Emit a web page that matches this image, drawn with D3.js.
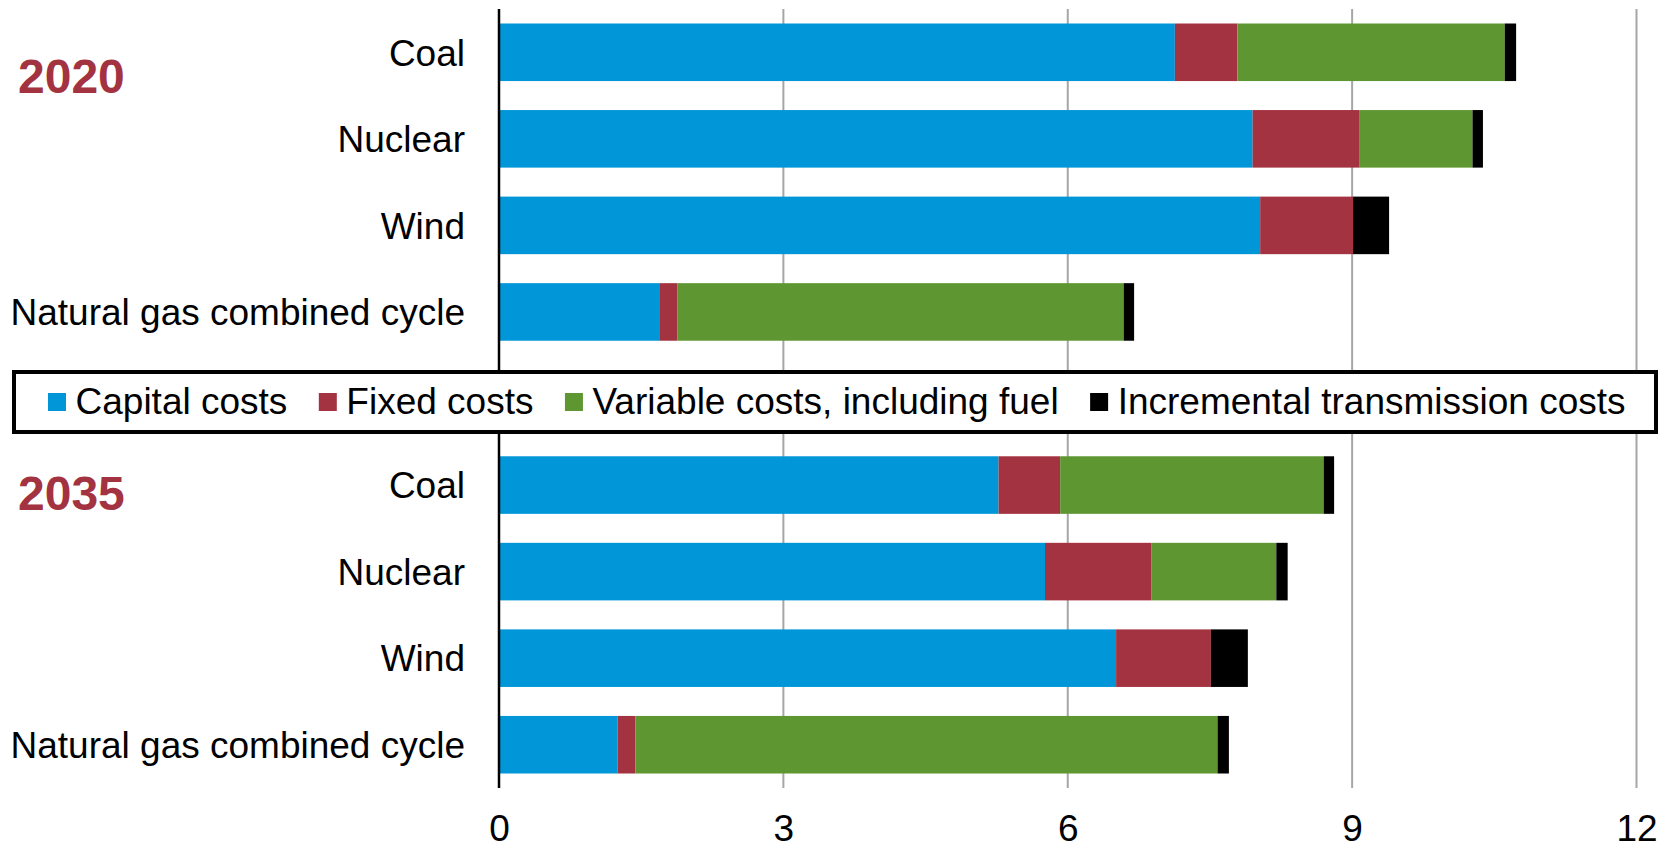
<!DOCTYPE html>
<html>
<head>
<meta charset="utf-8">
<script src="https://cdn.jsdelivr.net/npm/d3@7"></script>
<style>
  body { margin: 0; background: #fff; }
  text { font-family: "Liberation Sans", Arial, sans-serif; }
</style>
</head>
<body>
<svg id="chart"></svg>
<script>
// data
var categories = ["Coal", "Nuclear", "Wind", "Natural gas combined cycle"];
var years = ["2020", "2035"];
var seriesNames = ["Capital costs", "Fixed costs", "Variable costs, including fuel", "Incremental transmission costs"];
var seriesKeys = ["capital", "fixed", "variable", "transmission"];
var seriesColors = ["#0096D7", "#A33340", "#5E9732", "#000000"];
var xTicks = [0, 3, 6, 9, 12];

var capital2020 = [7.13, 7.95, 8.03, 1.69];
var fixed2020 = [0.66, 1.13, 0.98, 0.19];
var variable2020 = [2.82, 1.19, 0, 4.71];
var transmission2020 = [0.12, 0.11, 0.38, 0.11];

var capital2035 = [5.27, 5.76, 6.51, 1.25];
var fixed2035 = [0.65, 1.12, 1.00, 0.19];
var variable2035 = [2.78, 1.32, 0, 6.14];
var transmission2035 = [0.11, 0.12, 0.39, 0.12];

var width = 1669, height = 849;

var svg = d3.select("#chart")
    .attr("width", width)
    .attr("height", height);

var valuesByYear = {
    "2020": [capital2020, fixed2020, variable2020, transmission2020],
    "2035": [capital2035, fixed2035, variable2035, transmission2035]
};

function buildRows(year) {
    return categories.map(function (c, i) {
        var row = { key: year + "|" + c, category: c, year: year };
        seriesKeys.forEach(function (k, j) { row[k] = valuesByYear[year][j][i]; });
        return row;
    });
}

var rows2020 = buildRows("2020");
var rows2035 = buildRows("2035");

// one band per row, with an empty slot for the legend between the panels
var rowKeys = rows2020.map(function (d) { return d.key; })
    .concat(["legend"])
    .concat(rows2035.map(function (d) { return d.key; }));

var x = d3.scaleLinear()
    .domain([0, 12])
    .range([499, 1636.5]);

var y = d3.scaleBand()
    .domain(rowKeys)
    .range([9, 788])
    .paddingInner(0.335)
    .paddingOuter(0.1675);

// gridlines
svg.append("g")
    .attr("class", "grid")
    .selectAll("line")
    .data(xTicks.filter(function (t) { return t > 0; }))
    .enter().append("line")
    .attr("x1", function (d) { return x(d); })
    .attr("x2", function (d) { return x(d); })
    .attr("y1", 9)
    .attr("y2", 788)
    .attr("stroke", "#A6A6A6")
    .attr("stroke-width", 2);

// bars
var stack = d3.stack().keys(seriesKeys);
var layers = stack(rows2020.concat(rows2035));

svg.append("g")
    .selectAll("g")
    .data(layers)
    .enter().append("g")
    .attr("fill", function (d, i) { return seriesColors[i]; })
    .selectAll("rect")
    .data(function (d) { return d.filter(function (s) { return s[1] - s[0] > 0; }); })
    .enter().append("rect")
    .attr("x", function (d) { return x(d[0]); })
    .attr("width", function (d) { return x(d[1]) - x(d[0]); })
    .attr("y", function (d) { return y(d.data.key); })
    .attr("height", y.bandwidth());

// value axis
var xAxis = svg.append("g")
    .attr("transform", "translate(0,788)")
    .call(d3.axisBottom(x).tickValues(xTicks).tickSize(0).tickPadding(0));
xAxis.select(".domain").remove();
xAxis.selectAll("text")
    .attr("y", 53)
    .attr("dy", 0)
    .attr("fill", "#000")
    .style("font-size", "37px")
    .style("font-family", "Liberation Sans, Arial, sans-serif");

svg.append("line")
    .attr("x1", x(0)).attr("x2", x(0))
    .attr("y1", 9).attr("y2", 788)
    .attr("stroke", "#000")
    .attr("stroke-width", 2.5);

// category labels
svg.append("g")
    .selectAll("text")
    .data(rows2020.concat(rows2035))
    .enter().append("text")
    .attr("x", 465)
    .attr("y", function (d) { return y(d.key) + y.bandwidth() / 2; })
    .attr("dy", "0.36em")
    .attr("text-anchor", "end")
    .style("font-size", "37px")
    .attr("fill", "#000")
    .text(function (d) { return d.category; });

// year labels (the 2035 one sits closer to its coal row)
var yearBaselines = [92.5, 510];
svg.append("g")
    .selectAll("text")
    .data(years)
    .enter().append("text")
    .attr("x", 18)
    .attr("y", function (d, i) { return yearBaselines[i]; })
    .attr("fill", "#A33340")
    .attr("font-weight", "bold")
    .style("font-size", "48px")
    .text(function (d) { return d; });

// legend
var legend = svg.append("g").attr("class", "legend");
legend.append("rect")
    .attr("x", 14)
    .attr("y", 372)
    .attr("width", 1642)
    .attr("height", 60)
    .attr("fill", "#fff")
    .attr("stroke", "#000")
    .attr("stroke-width", 4);

var lx = 48;
seriesNames.forEach(function (name, i) {
    legend.append("rect")
        .attr("x", lx)
        .attr("y", 393)
        .attr("width", 18)
        .attr("height", 18)
        .attr("fill", seriesColors[i]);
    var t = legend.append("text")
        .attr("x", lx + 27.5)
        .attr("y", 401)
        .attr("dy", "0.36em")
        .style("font-size", "37px")
        .attr("fill", "#000")
        .text(name);
    lx = lx + 27.5 + t.node().getComputedTextLength() + 31.5;
});
</script>
</body>
</html>
